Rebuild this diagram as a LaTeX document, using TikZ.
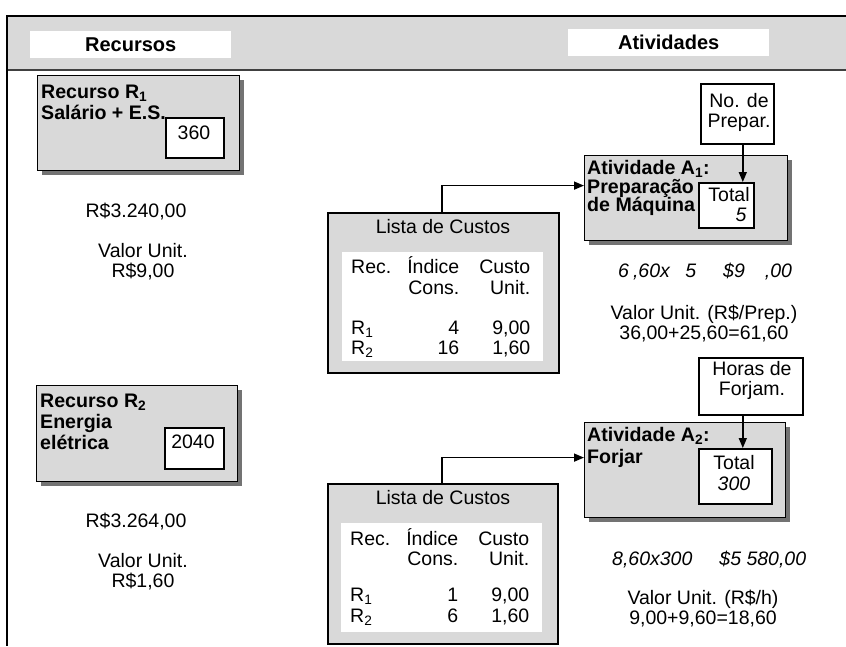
\documentclass[tikz,border=0pt]{standalone}
\usepackage{fontspec}
\setmainfont{Liberation Sans}
\usetikzlibrary{arrows.meta,shadows}
\definecolor{boxgray}{gray}{0.85}
\definecolor{shadowgray}{gray}{0.45}
\newcommand{\regf}{\fontsize{19.5}{20.5}\selectfont}
\newcommand{\boldf}{\fontsize{19.6}{21}\selectfont\bfseries}
\newcommand{\headf}{\fontsize{20}{21}\selectfont\bfseries}
\begin{document}
\begin{tikzpicture}[x=1pt,y=-1pt,
  box/.style={draw=black, line width=1.2pt, fill=boxgray, anchor=north west, inner sep=0pt,
    drop shadow={shadow xshift=4pt,shadow yshift=-4pt,fill=shadowgray,opacity=1}},
  wbox/.style={draw=black, line width=1.6pt, fill=white, anchor=north west, inner sep=0pt},
  listbox/.style={draw=black, line width=1.6pt, fill=boxgray, anchor=north west, inner sep=0pt},
  inwhite/.style={fill=white, anchor=north west, inner sep=0pt, minimum width=201pt, minimum height=109pt},
  hbox/.style={fill=white, anchor=north west, inner sep=0pt, minimum width=201pt, minimum height=27pt, font=\headf},
  txt/.style={inner sep=0pt, font=\regf},
  itxt/.style={inner sep=0pt, font=\regf\itshape},
  btxt/.style={inner sep=0pt, font=\boldf},
  arr/.style={line width=1.5pt, -{Triangle[length=10pt,width=8pt]}},
]
\useasboundingbox (0,0) rectangle (846,646);

% header band and frame
\fill[boxgray] (7,16) rectangle (846,70);
\draw[line width=1.3pt, black!75] (7,70) -- (846,70);
\draw[line width=2pt] (7,16) -- (846,16);
\draw[line width=2pt] (7,15) -- (7,646);
\node[hbox] (hrec) at (30,31) {Recursos};
\node[hbox] (hatv) at (568,29) {Atividades};

% Recurso R1
\node[box, minimum width=202pt, minimum height=95pt] (r1) at (37,75) {};
\node[btxt, anchor=base west] (r1t) at (41,98) {\begin{tabular}[t]{@{}l@{}}Recurso R\textsubscript{1}\\Salário + E.S.\end{tabular}};
\node[wbox, minimum width=58pt, minimum height=40pt] (r1v) at (165,117) {};
\node[txt, anchor=base] (r1vt) at (194,139) {360};
\node[txt, anchor=base] (r1tot) at (136,217) {R\$3.240,00};
\node[txt, anchor=base] (r1unit) at (143,257) {\begin{tabular}[t]{@{}c@{}}Valor Unit.\\R\$9,00\end{tabular}};

% Recurso R2
\node[box, minimum width=201pt, minimum height=96pt] (r2) at (36,385) {};
\node[btxt, anchor=base west] (r2t) at (40,407) {\begin{tabular}[t]{@{}l@{}}Recurso R\textsubscript{2}\\Energia\\elétrica\end{tabular}};
\node[wbox, minimum width=59pt, minimum height=41pt] (r2v) at (164,427) {};
\node[txt, anchor=base] (r2vt) at (193,448) {2040};
\node[txt, anchor=base] (r2tot) at (136,527) {R\$3.264,00};
\node[txt, anchor=base] (r2unit) at (143,567) {\begin{tabular}[t]{@{}c@{}}Valor Unit.\\R\$1,60\end{tabular}};

% Lista de Custos 1
\node[listbox, minimum width=231pt, minimum height=160pt] (l1) at (327,212) {};
\node[inwhite] (l1in) at (342,252) {};
\node[txt, anchor=base] (l1t) at (443,233) {Lista de Custos};
\node[txt, anchor=base west] (l1tab) at (351,273.5) {\begin{tabular}[t]{@{}l@{\hspace{16pt}}r@{\hspace{20pt}}r@{}}
Rec. & Índice & Custo\\
 & Cons. & Unit.\\[19.5pt]
R\textsubscript{1} & 4 & 9,00\\
R\textsubscript{2} & 16 & 1,60
\end{tabular}};

% Lista de Custos 2
\node[listbox, minimum width=230pt, minimum height=160pt] (l2) at (327,483) {};
\node[inwhite] (l2in) at (341,523) {};
\node[txt, anchor=base] (l2t) at (443,504) {Lista de Custos};
\node[txt, anchor=base west] (l2tab) at (350,545) {\begin{tabular}[t]{@{}l@{\hspace{16pt}}r@{\hspace{20pt}}r@{}}
Rec. & Índice & Custo\\
 & Cons. & Unit.\\[15.5pt]
R\textsubscript{1} & 1 & 9,00\\
R\textsubscript{2} & 6 & 1,60
\end{tabular}};

% Atividade A1
\node[box, minimum width=203pt, minimum height=85pt] (a1) at (584,155) {};
\node[btxt, anchor=base west] (a1t1) at (587,174.5) {Atividade A\textsubscript{1}:};
\node[btxt, anchor=base west] (a1t2) at (587,193) {Preparação};
\node[btxt, anchor=base west] (a1t3) at (587,211.5) {de Máquina};
\node[wbox, minimum width=55pt, minimum height=45pt] (a1tot) at (698,182) {};
\node[txt, anchor=base] (a1tott) at (729,201.7) {Total};
\node[itxt, anchor=base] (a1totv) at (741,221.7) {5};
\node[wbox, minimum width=73pt, minimum height=60pt] (a1n) at (700,83) {};
\node[txt, anchor=base] (a1nt) at (739,107) {\begin{tabular}[t]{@{}c@{}}No. de\\Prepar.\end{tabular}};
\draw[arr] ([xshift=5.5pt]a1n.south) -- ([xshift=5.5pt]a1n.south |- a1tot.north);
\node[itxt, anchor=base west] (a1calc) at (618,277) {6\hspace{4pt},60x\hspace{15.5pt}5\hspace{27pt}\$9\hspace{20pt},00};
\node[txt, anchor=base] (a1unit) at (704,319) {\begin{tabular}[t]{@{}c@{}}Valor Unit. (R\$/Prep.)\\36,00+25,60=61,60\end{tabular}};

% Atividade A2
\node[box, minimum width=201pt, minimum height=95pt] (a2) at (584,422) {};
\node[btxt, anchor=base west] (a2t1) at (587,441.5) {Atividade A\textsubscript{2}:};
\node[btxt, anchor=base west] (a2t2) at (587,463) {Forjar};
\node[wbox, minimum width=73pt, minimum height=55pt] (a2tot) at (698,448) {};
\node[txt, anchor=base] (a2tott) at (734,469) {Total};
\node[itxt, anchor=base] (a2totv) at (734,490) {300};
\node[wbox, minimum width=104pt, minimum height=57pt] (a2h) at (698,357) {};
\node[txt, anchor=base] (a2ht) at (752,375) {\begin{tabular}[t]{@{}c@{}}Horas de\\Forjam.\end{tabular}};
\draw[arr] ([xshift=-8pt]a2h.south) -- ([xshift=-8pt]a2h.south |- a2tot.north);
\node[itxt, anchor=base west] (a2calc) at (612,565) {8,60x300\hspace{27pt}\$5 580,00};
\node[txt, anchor=base] (a2unit) at (703,604) {\begin{tabular}[t]{@{}c@{}}Valor Unit. (R\$/h)\\9,00+9,60=18,60\end{tabular}};

% connectors from cost lists to activities
\draw[arr] ([xshift=115pt]l1.north west) |- ([yshift=12.5pt]a1.west);
\draw[arr] ([xshift=115pt]l2.north west) |- ([yshift=12.5pt]a2.west);
\end{tikzpicture}
\end{document}
